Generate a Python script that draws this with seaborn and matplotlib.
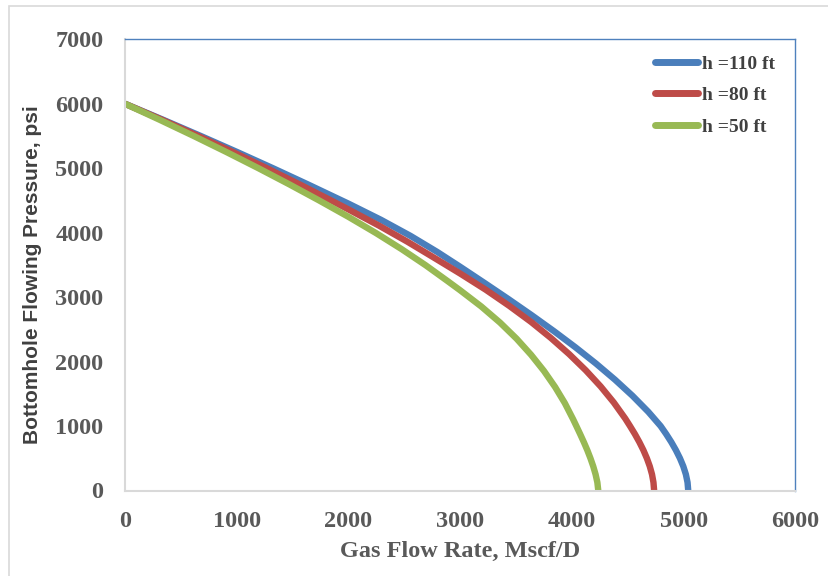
import numpy as np
import pandas as pd
import seaborn as sns
import matplotlib.pyplot as plt
from matplotlib.patches import Rectangle

# values (q in Mscf/D, p in psi)
q_110 = [0, 343, 678, 1005, 1324, 1635, 1939, 2000, 2290, 2555, 2795, 3000, 3217, 3431, 3639,
         3840, 4032, 4214, 4384, 4541, 4683, 4793, 4843, 4889, 4930, 4966, 4996, 5019, 5034, 5040]
p_110 = [6000, 5750, 5500, 5250, 5000, 4750, 4500, 4450, 4200, 3950, 3700, 3470, 3220, 2970, 2720,
         2470, 2220, 1970, 1720, 1470, 1220, 1000, 875, 750, 625, 500, 375, 250, 125, 0]

q_80 = [0, 333, 655, 967, 1269, 1561, 1844, 2000, 2272, 2527, 2767, 3000, 3228, 3438, 3634,
        3812, 3975, 4123, 4256, 4374, 4477, 4519, 4563, 4603, 4639, 4670, 4696, 4716, 4729, 4735]
p_80 = [6000, 5750, 5500, 5250, 5000, 4750, 4500, 4360, 4110, 3860, 3610, 3365, 3115, 2865, 2615,
        2365, 2115, 1865, 1615, 1365, 1115, 1000, 875, 750, 625, 500, 375, 250, 125, 0]

q_50 = [0, 312, 615, 909, 1194, 1470, 1737, 2000, 2245, 2475, 2690, 2890, 3000, 3188, 3356, 3504,
        3634, 3749, 3849, 3936, 4010, 4039, 4073, 4106, 4137, 4165, 4190, 4211, 4227, 4235]
p_50 = [6000, 5750, 5500, 5250, 5000, 4750, 4500, 4245, 3995, 3745, 3495, 3245, 3105, 2855, 2605, 2355,
        2105, 1855, 1605, 1355, 1105, 1000, 875, 750, 625, 500, 375, 250, 125, 0]

labels = ["h =110 ft", "h =80 ft", "h =50 ft"]
colors = ["#4A7EBB", "#BE4B48", "#98B954"]

df = pd.concat([
    pd.DataFrame({"q": q_110, "p": p_110, "h": labels[0]}),
    pd.DataFrame({"q": q_80, "p": p_80, "h": labels[1]}),
    pd.DataFrame({"q": q_50, "p": p_50, "h": labels[2]}),
], ignore_index=True)

sns.set_style("white")
plt.rcParams['font.family'] = ['Liberation Serif', 'DejaVu Serif']

W, H = 829, 576
fig = plt.figure(figsize=(W / 100, H / 100), dpi=100)
ax = fig.add_axes([125 / W, (H - 490.5) / H, (795.5 - 125) / W, (490.5 - 39.3) / H])

sns.lineplot(data=df, x="q", y="p", hue="h", palette=colors, sort=False,
             estimator=None, linewidth=4.6, ax=ax, legend=True)
for ln in ax.get_lines():
    ln.set_solid_capstyle("butt")
    ln.set_solid_joinstyle("round")

ax.set_xlim(0, 6000)
ax.set_ylim(0, 7000)
ax.set_xticks(range(0, 6001, 1000))
ax.set_yticks(range(0, 7001, 1000))
ax.tick_params(length=0, labelsize=17.5, labelcolor="#595959")
ax.tick_params(axis="y", pad=15.5)
ax.tick_params(axis="x", pad=15)
for t in ax.get_xticklabels() + ax.get_yticklabels():
    t.set_fontweight("bold")

for s in ["left", "bottom"]:
    ax.spines[s].set_color("#D9D9D9")
    ax.spines[s].set_linewidth(1.5)
for s in ["top", "right"]:
    ax.spines[s].set_color("#4F81BD")
    ax.spines[s].set_linewidth(1.0)

ax.set_xlabel("")
ax.set_ylabel("")
fig.text(460 / W, 1 - 551 / H, "Gas Flow Rate, Mscf/D", ha="center", va="center",
         fontsize=17.5, fontweight="bold", color="#595959")
fig.text(33 / W, 1 - 275 / H, "Bottomhole Flowing Pressure, psi", rotation=90,
         ha="center", va="center", fontsize=15, fontweight="bold", color="#404040",
         family=["Liberation Sans", "DejaVu Sans"])

leg = ax.legend(loc="upper left", bbox_to_anchor=(655 / W, 1 - 55 / H),
                bbox_transform=fig.transFigure, frameon=False, borderpad=0,
                borderaxespad=0, handlelength=2.2, handletextpad=0.2,
                labelspacing=0.72, prop={"weight": "bold", "size": 14})
for t in leg.get_texts():
    t.set_color("#404040")
for h in leg.get_lines():
    h.set_linewidth(5)
    h.set_solid_capstyle("round")

fig.patches.append(Rectangle((9 / W, -0.1), 1.2, 1 - 6 / H + 0.1, transform=fig.transFigure,
                             fill=False, edgecolor="#D9D9D9", linewidth=1.2))

fig.savefig("out.png", dpi=100)
